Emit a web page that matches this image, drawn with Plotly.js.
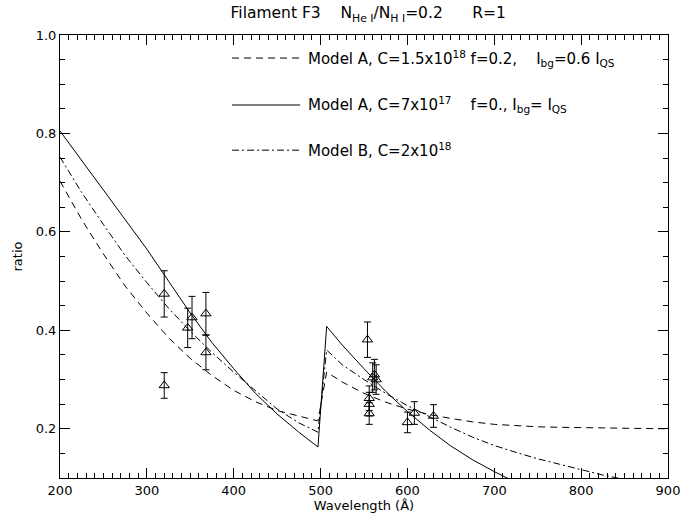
<!DOCTYPE html>
<html>
<head>
<meta charset="utf-8">
<script src="https://cdn.plot.ly/plotly-3.0.1.min.js"></script>
<style>html,body{margin:0;padding:0;background:#fff;}#chart{width:683px;height:520px;}</style>
</head>
<body>
<div id="chart"></div>
<script>
// Model curves (wavelength in Å, ratio)
const wlA = [200,225,250,275,300,325,350,375,400,425,450,475,497,507,525,550,575,600,625,650,675,700,725,750,775,800,825,850,875,900];
const modelA_C15e18 = [0.703,0.625,0.555,0.490,0.435,0.385,0.343,0.308,0.278,0.255,0.237,0.225,0.216,0.315,0.295,0.272,0.254,0.240,0.229,0.221,0.214,0.209,0.206,0.204,0.203,0.202,0.2015,0.201,0.2005,0.200];
const modelA_C7e17 = [0.805,0.745,0.685,0.627,0.565,0.500,0.435,0.375,0.322,0.272,0.230,0.193,0.163,0.408,0.370,0.322,0.276,0.235,0.198,0.165,0.137,0.113,0.091,0.072,0.056,0.043,0.031,0.021,0.012,0.005];
const modelB_C2e18 = [0.752,0.680,0.615,0.552,0.497,0.445,0.398,0.355,0.315,0.277,0.240,0.212,0.193,0.360,0.330,0.300,0.272,0.247,0.225,0.203,0.183,0.166,0.152,0.139,0.128,0.117,0.106,0.097,0.089,0.082];

// Observed ratios with error bars
const obsWl  = [320,320,347,352,368,368,554,556,556,556,560,562,564,600,608,630];
const obsVal = [0.474,0.288,0.405,0.426,0.434,0.355,0.381,0.262,0.250,0.231,0.304,0.310,0.300,0.213,0.232,0.226];
const obsErr = [0.047,0.026,0.040,0.043,0.043,0.035,0.036,0.025,0.024,0.022,0.030,0.031,0.030,0.021,0.023,0.023];

const legendLabels = [
  "Model A, C=1.5x10<sup>18</sup> f=0.2,    I<sub>bg</sub>=0.6 I<sub>QS</sub>",
  "Model A, C=7x10<sup>17</sup>    f=0., I<sub>bg</sub>= I<sub>QS</sub>",
  "Model B, C=2x10<sup>18</sup>"
];
const dashes = ["7px,5px","solid","7px,3px,2px,3px"];

const FONT = "DejaVu Sans, Verdana, sans-serif";
const lineStyle = (d) => ({color:"black", width:1, dash:d});

const traces = [
  {x: wlA, y: modelA_C15e18, mode:"lines", line: lineStyle(dashes[0]), showlegend:false, hoverinfo:"skip"},
  {x: wlA, y: modelA_C7e17, mode:"lines", line: lineStyle(dashes[1]), showlegend:false, hoverinfo:"skip"},
  {x: wlA, y: modelB_C2e18, mode:"lines", line: lineStyle(dashes[2]), showlegend:false, hoverinfo:"skip"},
  {x: obsWl, y: obsVal, mode:"markers",
   marker:{symbol:"triangle-up-open", size:9, color:"black", line:{width:1, color:"black"}},
   error_y:{type:"data", array: obsErr, visible:true, color:"black", thickness:1, width:3.5},
   showlegend:false}
];

// legend drawn inside the plot (key lines + labels)
const legRowsY = [0.948, 0.842, 0.740];
const shapes = [];
const annotations = [];
for (let i=0;i<3;i++){
  shapes.push({type:"line", xref:"paper", yref:"paper", x0:0.283, x1:0.395, y0:legRowsY[i], y1:legRowsY[i],
    line:{color:"black", width:1, dash:dashes[i]}});
  annotations.push({xref:"paper", yref:"paper", x:0.405, y:legRowsY[i], xanchor:"left", yanchor:"middle",
    text: legendLabels[i], showarrow:false, font:{family:FONT, size:15, color:"black"}});
}

const layout = {
  width:683, height:520,
  margin:{l:60, r:15, t:35, b:42},
  paper_bgcolor:"white", plot_bgcolor:"white",
  font:{family:FONT, size:13, color:"black"},
  title:{text:"Filament F3    N<sub>He I</sub>/N<sub>H I</sub>=0.2      R=1", x:0.507, xref:"paper", xanchor:"center",
         y:0.975, yref:"container", yanchor:"middle", font:{family:FONT, size:15.5, color:"black"}},
  xaxis:{range:[200,900], dtick:100, tick0:200, ticks:"inside", ticklen:10, tickcolor:"black", tickwidth:1,
         mirror:"allticks", showline:true, linecolor:"black", linewidth:1, showgrid:false, zeroline:false,
         minor:{dtick:10, ticks:"inside", ticklen:5, tickcolor:"black", showgrid:false},
         title:{text:"Wavelength (Å)", font:{family:FONT, size:13}, standoff:4},
         tickfont:{family:FONT, size:13}},
  yaxis:{range:[0.1,1.0], dtick:0.2, tick0:0, tickformat:".1f", ticks:"inside", ticklen:10, tickcolor:"black", tickwidth:1,
         mirror:"allticks", showline:true, linecolor:"black", linewidth:1, showgrid:false, zeroline:false,
         minor:{dtick:0.05, ticks:"inside", ticklen:5, tickcolor:"black", showgrid:false},
         title:{text:"ratio", font:{family:FONT, size:13}, standoff:10},
         tickfont:{family:FONT, size:13}},
  shapes: shapes,
  annotations: annotations
};

Plotly.newPlot("chart", traces, layout, {staticPlot:true, displayModeBar:false});
</script>
</body>
</html>
